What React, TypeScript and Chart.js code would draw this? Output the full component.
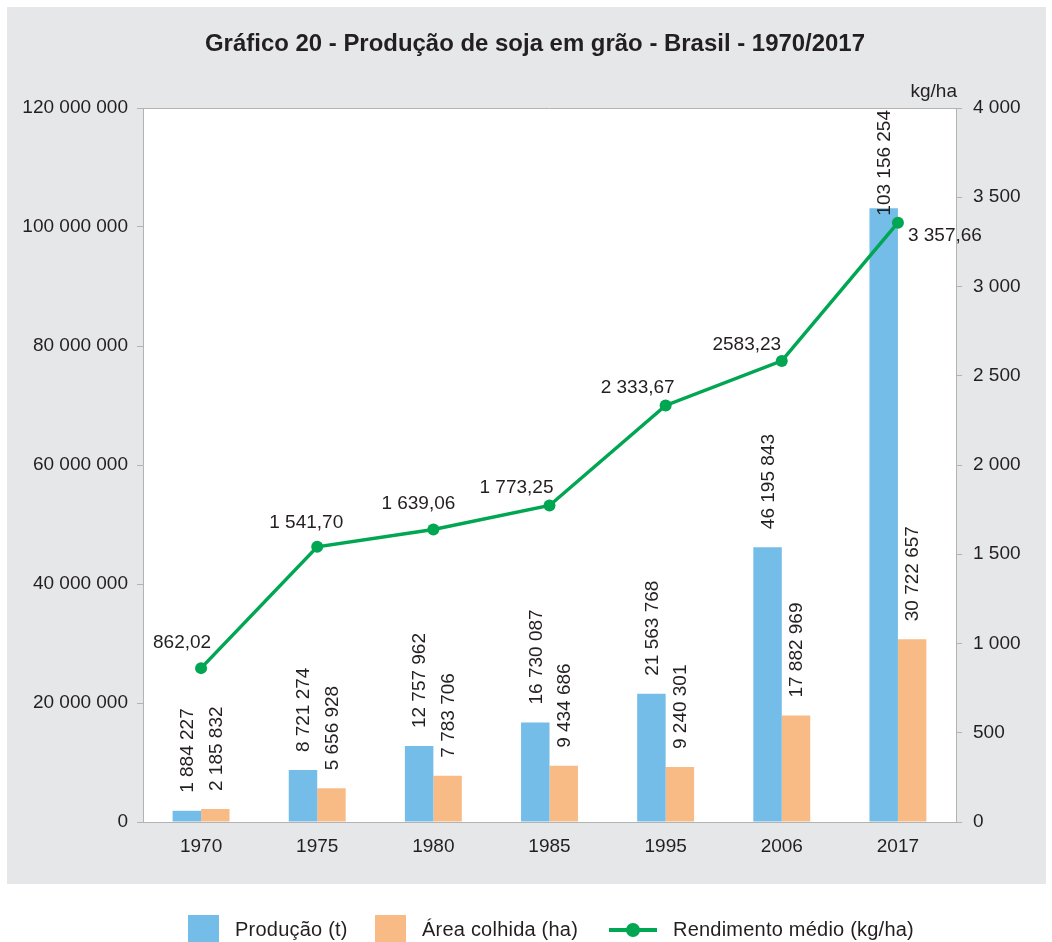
import React, { useEffect, useRef } from 'react';
import { Chart, registerables } from 'chart.js';

Chart.register(...registerables);

// ---- data ----
const years = ['1970', '1975', '1980', '1985', '1995', '2006', '2017'];
const producao = [1884227, 8721274, 12757962, 16730087, 21563768, 46195843, 103156254];
const areaColhida = [2185832, 5656928, 7783706, 9434686, 9240301, 17882969, 30722657];
const rendimento = [862.02, 1541.7, 1639.06, 1773.25, 2333.67, 2583.23, 3357.66];
const rendimentoLabels = ['862,02', '1 541,70', '1 639,06', '1 773,25', '2 333,67', '2583,23', '3 357,66'];
const titleText = 'Gráfico 20 - Produção de soja em grão - Brasil - 1970/2017';
const seriesNames = ['Produção (t)', 'Área colhida (ha)', 'Rendimento médio (kg/ha)'];
const rightUnit = 'kg/ha';

// ---- styles ----
const BLUE = '#74bde8';
const ORANGE = '#f9bb85';
const GREEN = '#00a651';
const PANEL = '#e6e7e9';
const AXIS = '#b3b3b3';
const TEXT = '#231f20';
const FONT_FAMILY = "'Liberation Sans', Arial, Helvetica, sans-serif";
const FS = 19;
// label offsets (dx, dy) for line value labels, relative to point
const lineLabelOffsets: [number, number][] = [
  [-19, -25], [-11, -24], [-15, -26], [-33, -18], [-28, -18], [-35, -16], [47, 13],
];

const fmt = (n: number) => Math.round(n).toString().replace(/\B(?=(\d{3})+(?!\d))/g, ' ');

const decor = {
  id: 'decor',
  beforeDraw(chart: any) {
    const { ctx, chartArea: a, width, height } = chart;
    ctx.save();
    ctx.fillStyle = '#ffffff';
    ctx.fillRect(0, 0, width, height);
    ctx.fillStyle = PANEL;
    ctx.fillRect(7, 7, 1039, 877);
    ctx.fillStyle = '#ffffff';
    ctx.fillRect(a.left, a.top, a.right - a.left, a.bottom - a.top);
    ctx.restore();
  },
  afterDatasetsDraw(chart: any) {
    const { ctx, chartArea: a } = chart;
    ctx.save();
    ctx.font = `${FS}px ${FONT_FAMILY}`;
    ctx.fillStyle = TEXT;
    // bar labels (rotated)
    [0, 1].forEach((di) => {
      const meta = chart.getDatasetMeta(di);
      const vals = chart.data.datasets[di].data as number[];
      meta.data.forEach((bar: any, i: number) => {
        const txt = fmt(vals[i]);
        const w = ctx.measureText(txt).width;
        const start = Math.max(bar.y - 18, a.top + 2 + w);
        ctx.save();
        ctx.translate(bar.x, start);
        ctx.rotate(-Math.PI / 2);
        ctx.textAlign = 'left';
        ctx.textBaseline = 'middle';
        ctx.fillText(txt, 0, 1);
        ctx.restore();
      });
    });
    // line labels
    const lm = chart.getDatasetMeta(2);
    lm.data.forEach((pt: any, i: number) => {
      const [dx, dy] = lineLabelOffsets[i];
      ctx.textAlign = 'center';
      ctx.textBaseline = 'middle';
      ctx.fillText(rendimentoLabels[i], pt.x + dx, pt.y + dy);
    });
    ctx.restore();
  },
  afterDraw(chart: any) {
    const { ctx, chartArea: a } = chart;
    ctx.save();
    // top border of plot
    ctx.strokeStyle = AXIS;
    ctx.lineWidth = 1;
    ctx.beginPath();
    ctx.moveTo(a.left - 6, a.top + 0.5);
    ctx.lineTo(a.right + 6, a.top + 0.5);
    ctx.stroke();

    // title
    ctx.fillStyle = TEXT;
    ctx.font = `bold 24px ${FONT_FAMILY}`;
    ctx.textAlign = 'center';
    ctx.textBaseline = 'middle';
    const tw = ctx.measureText(titleText).width;
    const sx = 660 / tw;
    ctx.save();
    ctx.translate(535, 44);
    ctx.scale(sx, 1);
    ctx.fillText(titleText, 0, 0);
    ctx.restore();

    // unit on right axis
    ctx.font = `${FS}px ${FONT_FAMILY}`;
    ctx.textAlign = 'right';
    ctx.fillText(rightUnit, a.right + 1, 92);

    // legend
    const ly = 930;
    ctx.font = `20px ${FONT_FAMILY}`;
    try { (ctx as any).letterSpacing = '0.22px'; } catch (e) { /* ignore */ }
    ctx.textAlign = 'left';
    ctx.textBaseline = 'middle';
    ctx.fillStyle = BLUE;
    ctx.fillRect(188, 915, 31, 28);
    ctx.fillStyle = TEXT;
    ctx.fillText(seriesNames[0], 235, ly);
    ctx.fillStyle = ORANGE;
    ctx.fillRect(375, 915, 31, 28);
    ctx.fillStyle = TEXT;
    ctx.fillText(seriesNames[1], 422, ly);
    ctx.strokeStyle = GREEN;
    ctx.lineWidth = 4;
    ctx.beginPath();
    ctx.moveTo(609, ly);
    ctx.lineTo(657, ly);
    ctx.stroke();
    ctx.fillStyle = GREEN;
    ctx.beginPath();
    ctx.arc(633, ly, 7, 0, Math.PI * 2);
    ctx.fill();
    ctx.fillStyle = TEXT;
    ctx.fillText(seriesNames[2], 673, ly);
    ctx.restore();
  },
};

export default function App() {
  const ref = useRef<HTMLCanvasElement | null>(null);
  useEffect(() => {
    document.body.style.margin = '0';
    const canvas = ref.current!;
    const font = { family: FONT_FAMILY, size: FS };
    const chart = new Chart(canvas, {
      data: {
        labels: years,
        datasets: [
          {
            type: 'bar',
            label: seriesNames[0],
            data: producao,
            backgroundColor: BLUE,
            yAxisID: 'y',
            order: 1,
            barPercentage: 1,
            categoryPercentage: 0.49,
          },
          {
            type: 'bar',
            label: seriesNames[1],
            data: areaColhida,
            backgroundColor: ORANGE,
            yAxisID: 'y',
            order: 1,
            barPercentage: 1,
            categoryPercentage: 0.49,
          },
          {
            type: 'line',
            label: seriesNames[2],
            data: rendimento,
            borderColor: GREEN,
            backgroundColor: GREEN,
            borderWidth: 3.5,
            pointRadius: 6,
            pointBorderWidth: 0,
            pointBackgroundColor: GREEN,
            yAxisID: 'y1',
            order: 0,
            tension: 0,
          },
        ],
      } as any,
      options: {
        responsive: false,
        animation: false,
        devicePixelRatio: 1,
        layout: { padding: { top: 108, left: 0, right: 0, bottom: 0 } },
        plugins: {
          legend: { display: false },
          title: { display: false },
          tooltip: { enabled: false },
        },
        scales: {
          x: {
            grid: { display: true, drawOnChartArea: false, drawTicks: false, color: AXIS },
            border: { display: true, color: AXIS, width: 1 },
            ticks: { font, color: TEXT, padding: 13 },
            afterFit: (s: any) => { s.height = 120; },
          },
          y: {
            position: 'left',
            min: 0,
            max: 120000000,
            ticks: { stepSize: 20000000, font, color: TEXT, padding: 9, callback: (v: any) => fmt(Number(v)) },
            grid: { drawOnChartArea: false, drawTicks: true, tickLength: 6, color: AXIS },
            border: { display: true, color: AXIS, width: 1 },
            afterFit: (s: any) => { s.width = 143; },
          },
          y1: {
            position: 'right',
            min: 0,
            max: 4000,
            ticks: { stepSize: 500, font, color: TEXT, padding: 11, callback: (v: any) => fmt(Number(v)) },
            grid: { drawOnChartArea: false, drawTicks: true, tickLength: 6, color: AXIS },
            border: { display: true, color: AXIS, width: 1 },
            afterFit: (s: any) => { s.width = 96; },
          },
        },
      } as any,
      plugins: [decor],
    });
    return () => chart.destroy();
  }, []);
  return (
    <div style={{ width: 1052, height: 942 }}>
      <canvas ref={ref} width={1052} height={942} style={{ display: 'block' }} />
    </div>
  );
}
